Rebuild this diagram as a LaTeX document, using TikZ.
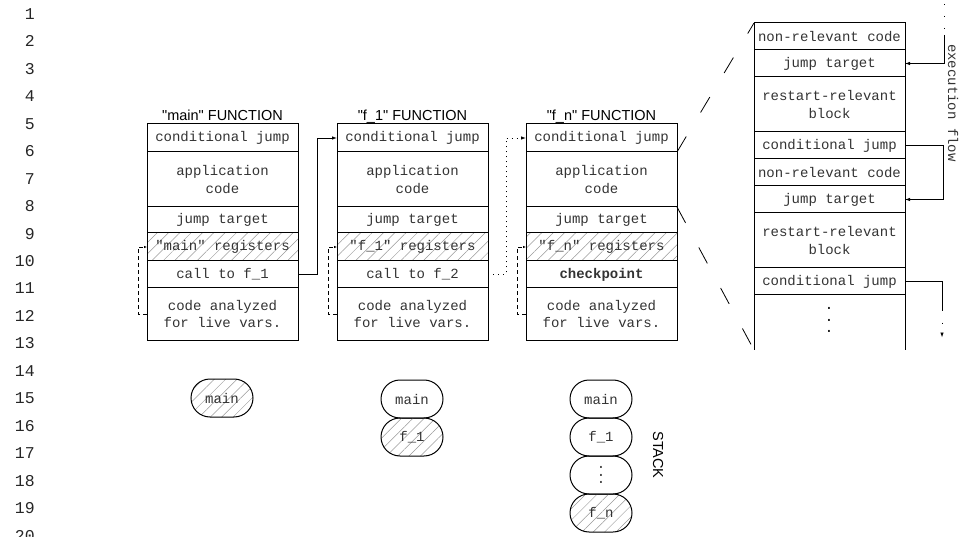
\documentclass[tikz,border=0pt]{standalone}
\usepackage{fontspec}
\setmainfont{Liberation Serif}
\setsansfont{Liberation Sans}[Ligatures=TeXOff]
\setmonofont{Liberation Mono}
\usetikzlibrary{positioning,shapes.misc,patterns.meta,arrows.meta}

\newcommand{\boxfont}{\ttfamily\fontsize{14}{17.5}\selectfont}
\newcommand{\headfont}{\sffamily\fontsize{14.5}{17}\selectfont}
\newcommand{\vdts}[1]{\vbox{\offinterlineskip\hbox{.}\kern#1\hbox{.}\kern#1\hbox{.}}}

\tikzset{
  blk/.style={draw, line width=1pt, minimum width=151pt, inner sep=0pt, outer sep=0pt, align=center, font=\boxfont, text=black!80},
  hatch/.style={pattern={Lines[angle=45,distance=8pt,line width=.5pt]}, pattern color=gray!80},
  frame/.style={rounded rectangle, draw, line width=1pt, minimum width=62pt, minimum height=38pt, inner sep=0pt, outer sep=0pt, font=\boxfont, text=black!80},
  title/.style={font=\headfont, inner sep=1pt, text depth=0pt},
  lnum/.style={font=\ttfamily\fontsize{16.5}{18}\selectfont, anchor=base east, inner sep=0pt, text=black!85},
  call/.style={->, line width=.8pt},
  regline/.style={-{Latex[length=3pt,width=2.5pt]}, line width=.8pt, dash pattern=on 4pt off 3pt},
  zoomline/.style={line width=.8pt, dash pattern=on 18pt off 28pt},
}

\begin{document}
\begin{tikzpicture}[x=1pt, y=-1pt, node distance=0pt, >={Latex[length=5pt,width=3.5pt]}]
\useasboundingbox (0,0) rectangle (961,537);

% line numbers
\foreach \i in {1,...,20}
  \node[lnum] (ln\i) at (35,{19.5+27.45*(\i-1)}) {\i};

% "main" function
\node[blk, minimum height=28pt, anchor=north west] (ma) at (147,124) {conditional jump};
\node[blk, minimum height=55pt, below=of ma] (mb) {application\\code};
\node[blk, minimum height=26pt, below=of mb] (mc) {jump target};
\node[blk, hatch, minimum height=28pt, below=of mc] (md) {"main" registers};
\node[blk, minimum height=27pt, below=of md] (me) {call to f\_1};
\node[blk, minimum height=52pt, below=of me] (mf) {code analyzed\\for live vars.};
\node[title, above=2.5pt of ma] (mt) {"main" FUNCTION};

% "f_1" function
\node[blk, minimum height=28pt, anchor=north west] (f1a) at (337,124) {conditional jump};
\node[blk, minimum height=55pt, below=of f1a] (f1b) {application\\code};
\node[blk, minimum height=26pt, below=of f1b] (f1c) {jump target};
\node[blk, hatch, minimum height=28pt, below=of f1c] (f1d) {"f\_1" registers};
\node[blk, minimum height=27pt, below=of f1d] (f1e) {call to f\_2};
\node[blk, minimum height=52pt, below=of f1e] (f1f) {code analyzed\\for live vars.};
\node[title, above=2.5pt of f1a] (f1t) {"f\_1" FUNCTION};

% "f_n" function
\node[blk, minimum height=28pt, anchor=north west] (fna) at (526,124) {conditional jump};
\node[blk, minimum height=55pt, below=of fna] (fnb) {application\\code};
\node[blk, minimum height=26pt, below=of fnb] (fnc) {jump target};
\node[blk, hatch, minimum height=28pt, below=of fnc] (fnd) {"f\_n" registers};
\node[blk, minimum height=27pt, below=of fnd] (fne) {\bfseries checkpoint};
\node[blk, minimum height=52pt, below=of fne] (fnf) {code analyzed\\for live vars.};
\node[title, above=2.5pt of fna] (fnt) {"f\_n" FUNCTION};

% calls between functions
\draw[call] (me.east) -- ++(19,0) |- (f1a.west);
\draw[call, dash pattern=on 1pt off 4pt] (f1e.east) -- ++(18,0) |- (fna.west);

% live registers
\draw[regline] (mf.west) -- ++(-9,0) |- (md.west);
\draw[regline] (f1f.west) -- ++(-9,0) |- (f1d.west);
\draw[regline] (fnf.west) -- ++(-9,0) |- (fnd.west);

% zoomed code of f_n
\node[blk, minimum height=27pt, anchor=north west] (r1) at (754,23) {non-relevant code};
\node[blk, minimum height=27pt, below=of r1] (r2) {jump target};
\node[blk, minimum height=55pt, below=of r2] (r3) {restart-relevant\\block};
\node[blk, minimum height=27pt, below=of r3] (r4) {conditional jump};
\node[blk, minimum height=27pt, below=of r4] (r5) {non-relevant code};
\node[blk, minimum height=27pt, below=of r5] (r6) {jump target};
\node[blk, minimum height=55pt, below=of r6] (r7) {restart-relevant\\block};
\node[blk, minimum height=27pt, below=of r7] (r8) {conditional jump};
\draw[line width=1pt] (r8.south west) -- ++(0,55) coordinate (rbl);
\draw[line width=1pt] (r8.south east) -- ++(0,55) coordinate (rbr);
\node[font=\boxfont, inner sep=0pt] (rdots) at (829,320) {\vdts{9pt}};

\draw[zoomline] (fna.south east) -- (r1.north west);
\draw[zoomline] (fnb.south east) -- (rbl);

% execution flow
\coordinate (xtop) at (944,4);
\draw[line width=.8pt, dash pattern=on 1pt off 11pt] (xtop) -- ++(0,31) coordinate (xa);
\draw[call] (xa) |- (r2.east);
\draw[call] (r4.east) -- ++(38,0) |- (r6.east);
\draw[line width=.8pt] (r8.east) -- ++(37,0) -- ++(0,29) coordinate (xb);
\draw[call, dash pattern=on 1pt off 11pt] (xb) -- ++(0,27);
\node[font=\boxfont, text=black!80, rotate=-90] (xflow) at (953,103) {execution flow};

% stacks
\node[frame, hatch] (s1main) at (222,398) {main};

\node[frame] (s2main) at (412,399) {main};
\node[frame, hatch, below=of s2main] (s2f) {f\_1};

\node[frame] (s3main) at (601,399) {main};
\node[frame, below=of s3main] (s3f) {f\_1};
\node[frame, below=of s3f] (s3d) {\vdts{5pt}};
\node[frame, hatch, below=of s3d] (s3n) {f\_n};
\node[font=\headfont, rotate=-90] (stk) at (658,455) {STACK};
\end{tikzpicture}
\end{document}
